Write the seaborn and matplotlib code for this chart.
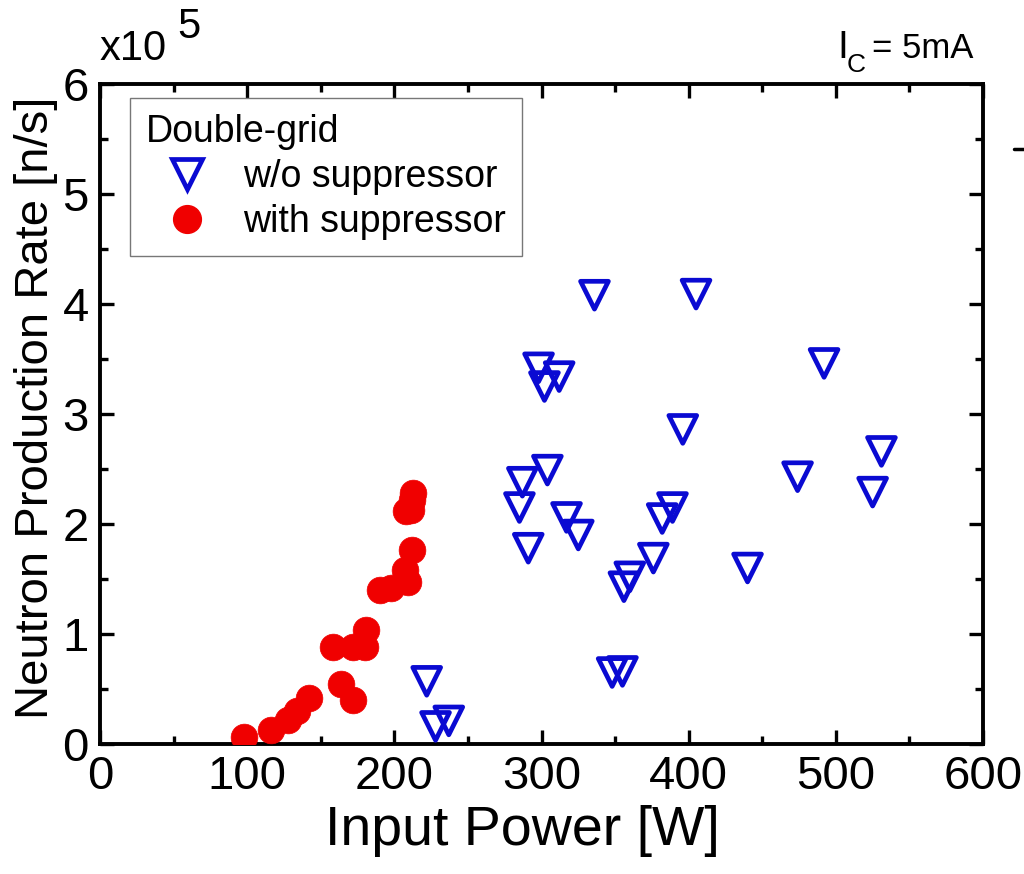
import numpy as np
import pandas as pd
import matplotlib
matplotlib.use("Agg")
import matplotlib.pyplot as plt
from matplotlib.lines import Line2D
from matplotlib.ticker import MultipleLocator
import seaborn as sns

# Double-grid source, cathode current 5 mA
# Input power [W] and neutron production rate [x10^5 n/s]
power_with = [98, 116, 128, 134, 142, 158, 164, 172, 172, 180, 181,
              190, 198, 207, 209, 212, 208, 211, 213, 212]
rate_with = [0.06, 0.13, 0.22, 0.30, 0.42, 0.88, 0.55, 0.40, 0.88, 0.88, 1.04,
             1.40, 1.42, 1.58, 1.47, 1.76, 2.12, 2.13, 2.28, 2.22]

power_without = [222, 228, 237, 285, 287, 291, 298, 302, 304, 312, 317, 325,
                 336, 348, 355, 356, 360, 376, 382, 389, 396, 405, 440, 474,
                 492, 525, 531]
rate_without = [0.57, 0.16, 0.21, 2.15, 2.38, 1.78, 3.42, 3.25, 2.49, 3.34,
                2.06, 1.90, 4.08, 0.65, 0.66, 1.43, 1.52, 1.69, 2.05, 2.15,
                2.86, 4.09, 1.60, 2.43, 3.46, 2.29, 2.66]

label_without = "w/o suppressor"
label_with = "with suppressor"
legend_title = "Double-grid"
x_ticks = [0, 100, 200, 300, 400, 500, 600]
y_ticks = [0, 1, 2, 3, 4, 5, 6]

sns.set_theme(style="white")
plt.rcParams["font.family"] = ["Liberation Sans", "DejaVu Sans"]
for key in ["text.color", "axes.labelcolor", "xtick.color", "ytick.color",
            "axes.edgecolor"]:
    plt.rcParams[key] = "black"

W, H = 1024, 874
fig = plt.figure(figsize=(W / 100, H / 100), dpi=100)
ax = fig.add_axes([100 / W, 1 - 744 / H, 883 / W, 660 / H])

df_without = pd.DataFrame({"power": power_without, "rate": rate_without})
df_with = pd.DataFrame({"power": power_with, "rate": rate_with})

blue = "#0a0ad2"
red = "#f00000"

sns.scatterplot(data=df_without, x="power", y="rate", ax=ax, marker="v",
                s=400, facecolor="none", edgecolor=blue, linewidth=3.4,
                zorder=3)
sns.scatterplot(data=df_with, x="power", y="rate", ax=ax, marker="o",
                s=370, color=red, edgecolor=red, linewidth=0.5, zorder=4)
ax.collections[0].set_facecolor("none")
ax.collections[0].set_edgecolor(blue)

ax.set_xlim(0, 600)
ax.set_ylim(0, 6)
ax.set_xticks(x_ticks)
ax.set_yticks(y_ticks)
ax.set_xticklabels([str(v) for v in x_ticks])
ax.set_yticklabels([str(v) for v in y_ticks])
ax.xaxis.set_minor_locator(MultipleLocator(50))
ax.yaxis.set_minor_locator(MultipleLocator(0.5))

ax.tick_params(which="both", direction="in", top=True, right=True,
               bottom=True, left=True, colors="black", width=2.4)
ax.tick_params(which="major", length=10, labelsize=34, pad=8)
ax.tick_params(which="minor", length=6)
for sp in ax.spines.values():
    sp.set_linewidth(2.8)
    sp.set_color("black")

ax.set_xlabel("Input Power [W]", fontsize=40)
ax.set_ylabel("Neutron Production Rate [n/s]", fontsize=34)
ax.xaxis.set_label_coords(0.478, -0.093)
ax.yaxis.set_label_coords(-0.047, 0.51)

handles = [
    Line2D([], [], linestyle="none", marker="v", markersize=21,
           markerfacecolor="none", markeredgecolor=blue, markeredgewidth=3.4),
    Line2D([], [], linestyle="none", marker="o", markersize=20,
           markerfacecolor=red, markeredgecolor=red),
]
leg = ax.legend(handles, [label_without, label_with], title=legend_title,
                loc="upper left", bbox_to_anchor=(0.034, 0.979),
                frameon=True, fancybox=False, framealpha=1,
                edgecolor="#777777", alignment="left",
                prop={"size": 27}, title_fontproperties={"size": 27},
                handletextpad=0.4, labelspacing=0.25, borderpad=0.42,
                handlelength=2.2, borderaxespad=0)
leg.get_frame().set_linewidth(1.0)

# axis multiplier and condition annotations
fig.text(100 / W, 1 - 60 / H, "x10", fontsize=30, ha="left", va="baseline")
fig.text(177 / W, 1 - 38 / H, "5", fontsize=30, ha="left", va="baseline")
fig.text(837 / W, 1 - 58 / H, "I", fontsize=28, ha="left", va="baseline")
fig.text(847 / W, 1 - 72 / H, "C", fontsize=19, ha="left", va="baseline")
fig.text(872 / W, 1 - 58 / H, "= 5mA", fontsize=25, ha="left", va="baseline")

fig.add_artist(Line2D([1014 / W, 1.0], [1 - 148.5 / H, 1 - 148.5 / H],
                      transform=fig.transFigure, color="black", linewidth=2.5))

fig.savefig("out.png", dpi=100, facecolor="white")
